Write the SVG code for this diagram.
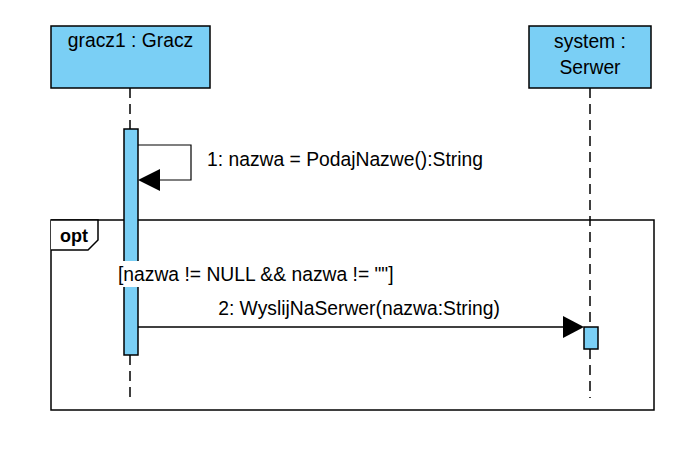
<svg xmlns="http://www.w3.org/2000/svg" width="697" height="464" viewBox="0 0 697 464">
<style>
text{font-family:"Liberation Sans",Arial,sans-serif;font-size:19.3px;fill:#000}
.box{fill:#7ACFF5;stroke:#000;stroke-width:1.5}
.life{stroke:#000;stroke-width:1.5;stroke-dasharray:10,6;fill:none}
.msg{stroke:#000;stroke-width:1.5;fill:none}
</style>
<rect width="697" height="464" fill="#fff"/>
<g id="frame-opt">
<rect x="51" y="220" width="603" height="190" fill="none" stroke="#000" stroke-width="1.5"/>
<path d="M51,220 L98,220 L98,240 L88,250 L51,250" fill="#fff" stroke="#000" stroke-width="1.5"/>
<text x="60" y="242" style="font-weight:bold;font-size:18px">opt</text>
</g>
<g id="gracz1">
<rect class="box" x="51" y="26" width="159" height="62"/>
<text x="130.5" y="47" text-anchor="middle">gracz1 : Gracz</text>
<line class="life" x1="130" y1="88" x2="130" y2="129"/>
<line class="life" x1="130" y1="355" x2="130" y2="398"/>
<rect class="box" x="124" y="129" width="14" height="226"/>
</g>
<g id="system">
<rect class="box" x="529" y="26" width="122" height="62"/>
<text x="590" y="48" text-anchor="middle">system :</text>
<text x="590" y="74" text-anchor="middle">Serwer</text>
<line class="life" x1="590" y1="88" x2="590" y2="327"/>
<line class="life" x1="590" y1="349" x2="590" y2="398"/>
<rect class="box" x="584" y="327" width="14" height="22"/>
</g>
<g id="guard">
<rect x="117" y="261" width="277" height="26" fill="#fff"/>
<text x="118" y="281">[nazwa != NULL &amp;&amp; nazwa != ""]</text>
</g>
<g id="connectors">
<path d="M138,145 L191,145 L191,180 L158,180" stroke="#000" stroke-width="1.2" fill="none"/>
<polygon points="160,169 138,180 160,191" fill="#000"/>
<text x="207" y="166">1: nazwa = PodajNazwe():String</text>
<line class="msg" x1="138" y1="327" x2="565" y2="327"/>
<polygon points="563,316 584,327 563,338" fill="#000"/>
<text x="359" y="315" text-anchor="middle">2: WyslijNaSerwer(nazwa:String)</text>
</g>
</svg>
